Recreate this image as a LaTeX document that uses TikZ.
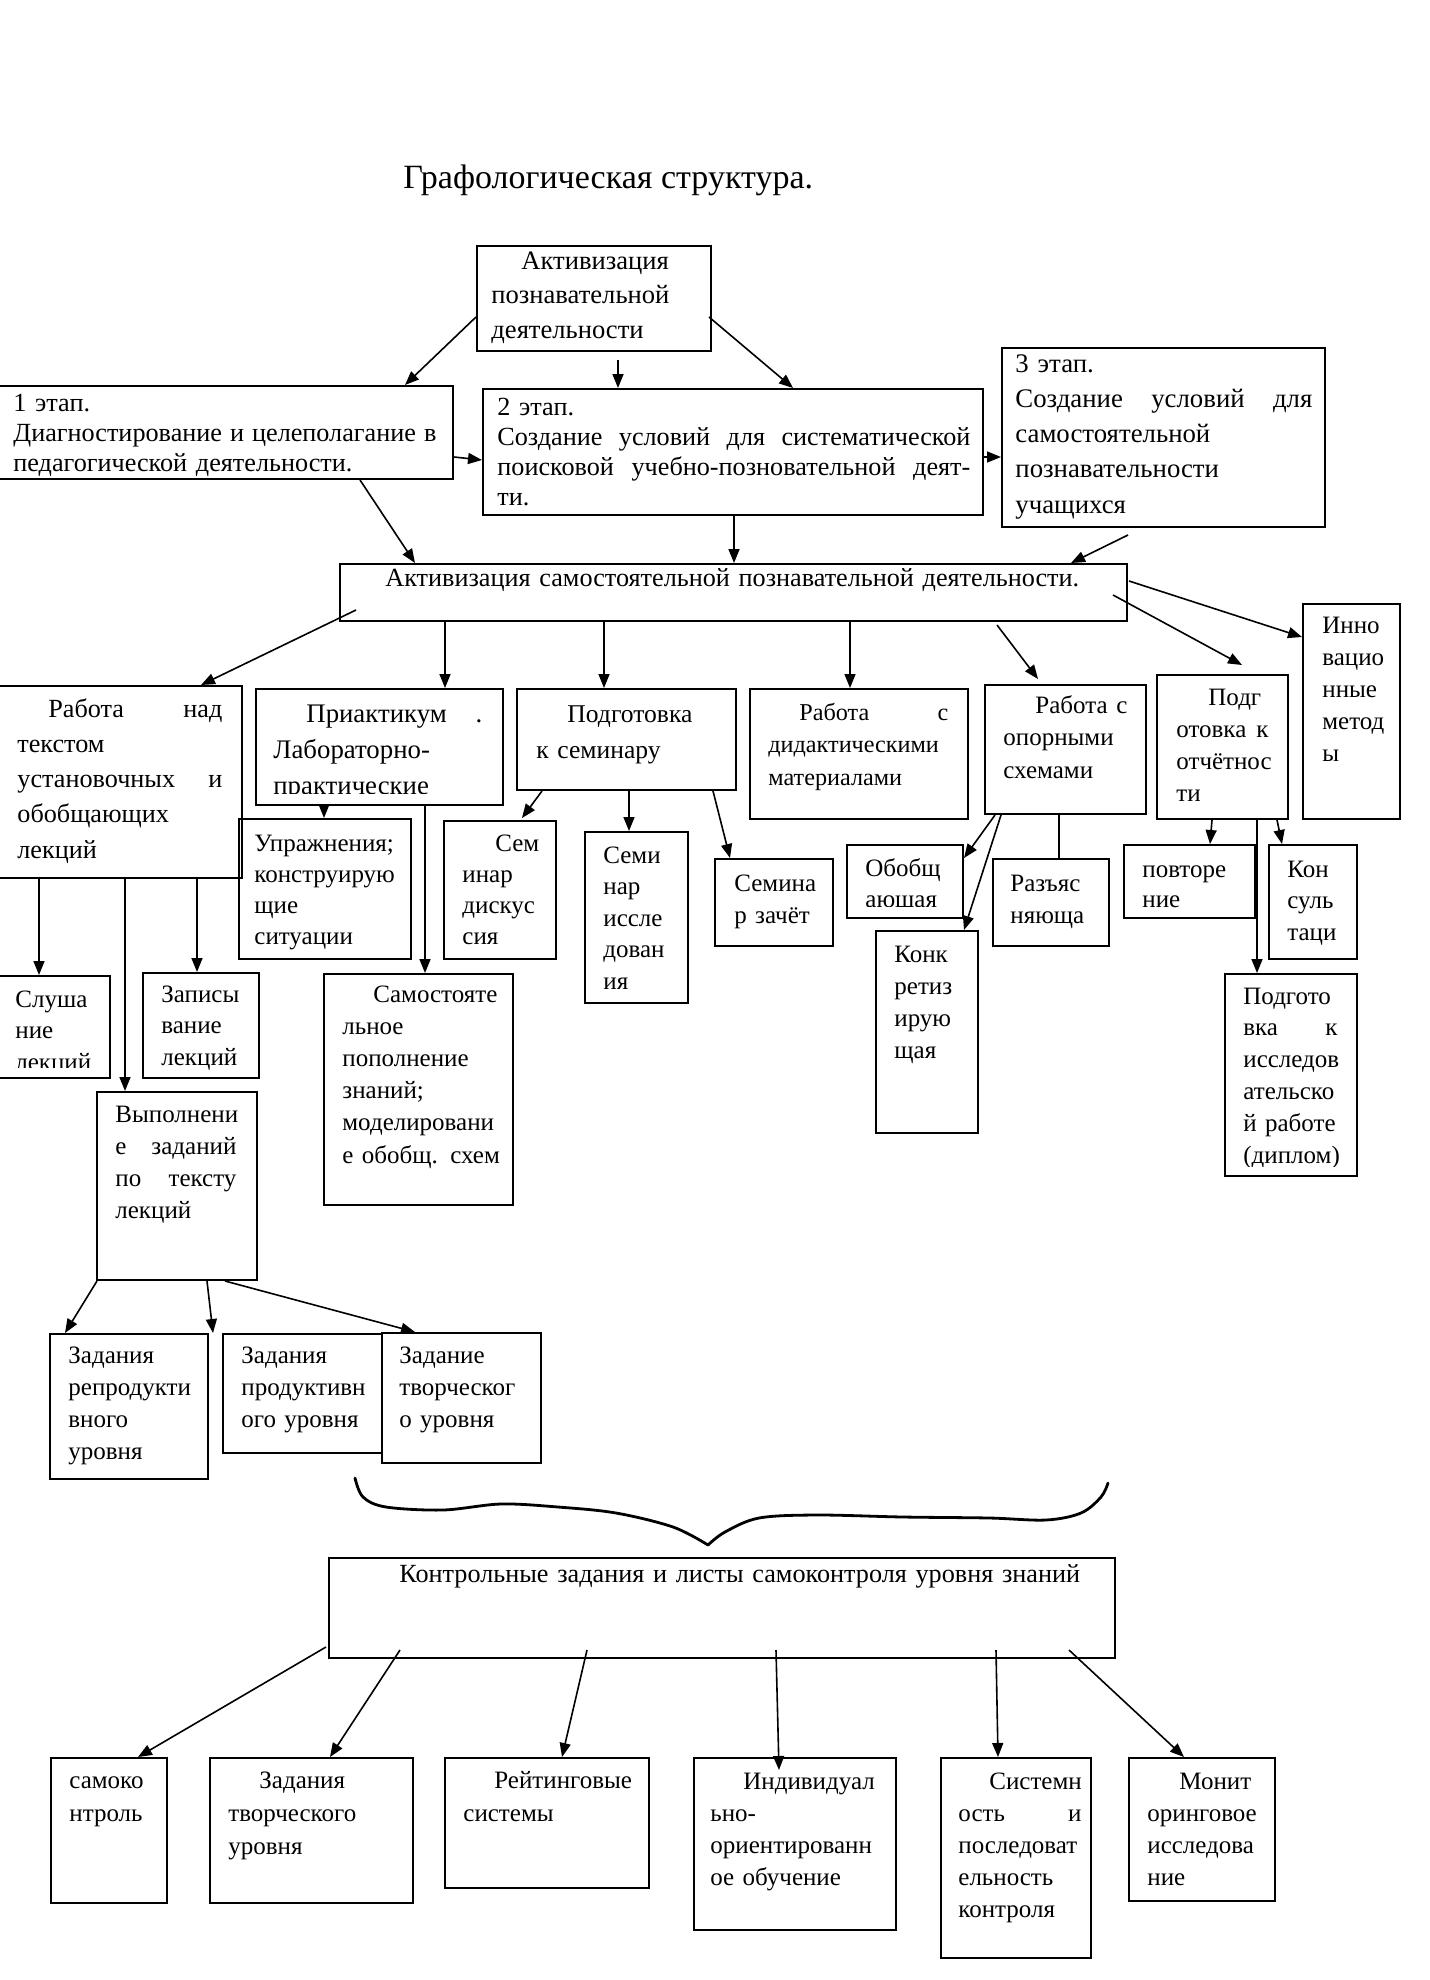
\documentclass[tikz,border=0pt]{standalone}
\usepackage{fontspec}
\setmainfont{Liberation Serif}
\usetikzlibrary{calc,arrows.meta}
\tikzset{
 bx/.style={draw, line width=1pt, inner sep=0pt, anchor=north west},
 txt/.style={anchor=base west, inner sep=0pt, align=left, text width=400pt},
 arr/.style={line width=0.8pt, -{Triangle[length=7pt,width=5.5pt]}},
 ln/.style={line width=0.8pt},
 bracestyle/.style={line width=1.4pt, line cap=round, line join=round}
}
\newcommand\mkbox[5]{%
  \pgfmathsetmacro\bw{(#4-#2)*0.5}\pgfmathsetmacro\bh{(#5-#3)*0.5}%
  \node[bx, minimum width=\bw pt, minimum height=\bh pt] (#1) at (#2,#3) {};}
% name, x, baseline, baselineskip(pt), content ; optional font size
\newcommand\mktext[6][12.5]{%
  \node[txt, font=\fontsize{#1pt}{#5pt}\selectfont] (#2) at (#3,#4) {#6};}
\begin{document}
\begin{tikzpicture}[x=0.5pt,y=-0.5pt]
\fill[white] (0,0) rectangle (1429,1980);
\useasboundingbox (0,0) rectangle (1429,1980);

% title
\node[anchor=base west, inner sep=0pt, font=\fontsize{17pt}{20pt}\selectfont] (title) at (403,188) {Графологическая структура.};

% ---- boxes ----
\mkbox{act}{476}{245}{710}{350}
\mkbox{st1}{-3}{385}{452}{478}
\mkbox{st2}{482}{388}{982}{514}
\mkbox{st3}{1001}{347}{1324}{526}
\mkbox{main}{339}{563}{1126}{620}
\mkbox{F}{-3}{685}{241}{877}
\mkbox{G}{255}{688}{502}{804}
\mkbox{H}{516}{688}{735}{789}
\mkbox{I}{749}{688}{967}{818}
\mkbox{J}{984}{684}{1145}{813}
\mkbox{K}{1156}{674}{1287}{818}
\mkbox{L}{1302}{603}{1399}{818}
\mkbox{M}{238}{818}{410}{958}
\mkbox{N}{443}{820}{555}{958}
\mkbox{O}{-3}{975}{109}{1077}
\mkbox{P}{142}{972}{258}{1077}
\mkbox{Q}{96}{1091}{256}{1279}
\mkbox{R}{323}{973}{512}{1204}
\mkbox{S}{584}{831}{687}{1002}
\mkbox{T}{714}{858}{832}{945}
\mkbox{U}{846}{844}{962}{917}
\mkbox{V}{875}{930}{977}{1132}
\mkbox{W}{992}{858}{1108}{945}
\mkbox{X}{1123}{844}{1254}{917}
\mkbox{Y}{1268}{844}{1356}{958}
\mkbox{Z}{1224}{973}{1356}{1175}
\mkbox{AA}{49}{1333}{207}{1478}
\mkbox{AB}{222}{1333}{381}{1452}
\mkbox{AC}{381}{1332}{540}{1462}
\mkbox{ctrl}{328}{1557}{1114}{1657}
\mkbox{Ba}{50}{1757}{166}{1902}
\mkbox{Bb}{209}{1757}{412}{1902}
\mkbox{Bc}{444}{1757}{648}{1887}
\mkbox{Bd}{693}{1757}{895}{1929}
\mkbox{Be}{940}{1757}{1090}{1957}
\mkbox{Bf}{1128}{1757}{1274}{1900}

% ---- texts ----
\mktext[13.3]{actt}{491}{269}{17.25}{\hspace*{15pt}Активизация\\познавательной\\деятельности}
\mktext[13.1]{st1t}{13}{411}{15}{1 этап.\\\makebox[211.5pt][l]{Диагностирование\hfill и\hfill целеполагание\hfill в}\\педагогической деятельности.}
\mktext[13.1]{st2t}{497}{415}{15}{2 этап.\\\makebox[236.5pt][l]{Создание\hfill условий\hfill для\hfill систематической}\\\makebox[236.5pt][l]{поисковой\hfill учебно-позновательной\hfill деят-}\\ти.}
\mktext[13.4]{st3t}{1015}{372}{17.65}{3 этап.\\\makebox[148.5pt][l]{Создание\hfill условий\hfill для}\\самостоятельной\\познавательности\\учащихся}
\mktext[13.1]{maint}{385}{586}{15}{Активизация самостоятельной познавательной деятельности.}
\mktext[13.1]{Ft}{17}{717}{17.65}{\makebox[102.5pt][l]{\hspace*{15.5pt}Работа\hfill над}\\текстом\\\makebox[102.5pt][l]{установочных\hfill и}\\обобщающих\\лекций}
\begin{scope}
\clip (255,688) rectangle (502,793);
\mktext[13.4]{Gt}{273}{722}{18}{\makebox[104.5pt][l]{\hspace*{16.5pt}Приактикум\hfill .}\\Лабораторно-\\практические}
\end{scope}
\mktext[12.8]{Ht}{536}{722}{18}{\hspace*{15.5pt}Подготовка\\к семинару}
\mktext[12.1]{It}{768}{720}{16.25}{\makebox[90pt][l]{\hspace*{15.5pt}Работа\hfill с}\\дидактическими\\материалами}
\mktext{Jt}{1003}{713}{16.25}{\makebox[62pt][l]{\hspace*{16pt}Работа\hfill с}\\опорными\\схемами}
\mktext{Kt}{1176}{705}{16.15}{\hspace*{16pt}Подг\\\makebox[46pt][l]{отовка\hfill к}\\отчётнос\\ти}
\mktext{Lt}{1322}{633}{16.1}{Инно\\вацио\\нные\\метод\\ы}
\mktext{Mt}{254}{851}{15.5}{Упражнения;\\конструирую\\щие\\ситуации}
\mktext{Nt}{462}{851}{15.5}{\hspace*{16.5pt}Сем\\инар\\дискус\\сия}
\begin{scope}
\clip (-3,975) rectangle (109,1067);
\mktext{Ot}{15}{1007}{15.75}{Слуша\\ние\\лекций}
\end{scope}
\mktext{Pt}{161}{1002}{15.75}{Записы\\вание\\лекций}
\mktext{Qt}{115}{1122}{16}{Выполнени\\\makebox[60.5pt][l]{е\hfill заданий}\\\makebox[60.5pt][l]{по\hfill тексту}\\лекций}
\mktext{Rt}{342}{1002}{16.1}{\hspace*{15.5pt}Самостояте\\льное\\пополнение\\знаний;\\моделировани\\е обобщ. схем}
\mktext{St}{603}{863}{15.75}{Семи\\нар\\иссле\\дован\\ия}
\mktext{Tt}{734}{891}{16}{Семина\\р зачёт}
\begin{scope}
\clip (846,844) rectangle (962,906);
\mktext{Ut}{865}{876}{15.5}{Обобщ\\ающая}
\end{scope}
\mktext{Vt}{894}{962}{16}{Конк\\ретиз\\ирую\\щая}
\mktext{Wt}{1010}{891}{16}{Разъяс\\няюща}
\mktext{Xt}{1142}{877}{15}{повторе\\ние}
\mktext{Yt}{1287}{877}{15.75}{Кон\\суль\\таци}
\begin{scope}
\clip (1224,973) rectangle (1356,1166);
\mktext{Zt}{1243}{1004}{15.9}{Подгото\\\makebox[47pt][l]{вка\hfill к}\\исследов\\ательско\\й работе\\(диплом)}
\end{scope}
\mktext{AAt}{68}{1363}{16}{Задания\\репродукти\\вного\\уровня}
\mktext{ABt}{241}{1363}{16}{Задания\\продуктивн\\ого уровня}
\mktext{ACt}{399}{1363}{16}{Задание\\творческог\\о уровня}
\mktext[13.1]{ctrlt}{399}{1582}{15}{Контрольные задания и листы самоконтроля уровня знаний}
\mktext{Bat}{69}{1788}{16.5}{самоко\\нтроль}
\mktext{Bbt}{228}{1788}{16.5}{\hspace*{15.5pt}Задания\\творческого\\уровня}
\mktext{Bct}{463}{1788}{16.5}{\hspace*{15.5pt}Рейтинговые\\системы}
\mktext{Bdt}{710}{1789}{16}{\hspace*{16.5pt}Индивидуал\\ьно-\\ориентированн\\ое обучение}
\mktext{Bet}{958}{1789}{16}{\hspace*{15.5pt}Системн\\\makebox[61.5pt][l]{ость\hfill и}\\последоват\\ельность\\контроля}
\mktext{Bft}{1147}{1789}{16}{\hspace*{16pt}Монит\\оринговое\\исследова\\ние}

% ---- connectors ----
\draw[arr] ($(act.north west)+(0,72)$) -- ($(st1.north west)+(408,0)$);
\draw[arr] ($(act.south west)+(142,8)$) -- ($(st2.north west)+(136,0)$);
\draw[arr] ($(act.north east)+(-3,72)$) -- ($(st2.north west)+(311,0)$);
\draw[arr] ($(st1.north east)+(0,72)$) -- ($(st2.north west)+(0,72)$);
\draw[arr] ($(st2.north east)+(0,69)$) -- ($(st3.north west)+(0,110)$);
\draw[arr] ($(st1.south west)+(363,0)$) -- ($(main.north west)+(76,0)$);
\draw[arr] ($(st2.south west)+(252,0)$) -- ($(main.north west)+(395,0)$);
\draw[arr] ($(st3.south west)+(127,7)$) -- ($(main.north west)+(732,0)$);

\draw[arr] ($(main.north west)+(17,47)$) -- ($(F.north east)+(-42,0)$);
\draw[arr] ($(main.south west)+(106,0)$) -- ($(G.north west)+(190,0)$);
\draw[arr] ($(main.south west)+(265,0)$) -- ($(H.north west)+(88,0)$);
\draw[arr] ($(main.south west)+(511,0)$) -- ($(I.north west)+(101,0)$);
\draw[arr] ($(main.south west)+(658,3)$) -- ($(J.north west)+(54,-5)$);
\draw[arr] ($(main.north west)+(774,32)$) -- ($(K.north west)+(86,-9)$);
\draw[arr] ($(main.north east)+(1,18)$) -- ($(L.north west)+(0,34)$);

\draw[arr] ($(F.south west)+(42,0)$) -- ($(O.north west)+(42,0)$);
\draw[arr] ($(F.south west)+(128,0)$) -- ($(Q.north west)+(29,0)$);
\draw[arr] ($(F.south west)+(200,0)$) -- ($(P.north west)+(55,0)$);
\draw[arr] ($(G.south west)+(69,0)$) -- ($(M.north west)+(86,0)$);
\draw[arr] ($(G.south west)+(170,0)$) -- ($(R.north west)+(102,0)$);
\draw[arr] ($(H.south west)+(26,0)$) -- ($(N.north west)+(79,-2)$);
\draw[arr] ($(H.south west)+(113,0)$) -- ($(S.north west)+(45,0)$);
\draw[arr] ($(H.south west)+(197,0)$) -- ($(T.north west)+(16,0)$);
\draw[arr] ($(J.south west)+(11,0)$) -- ($(U.north east)+(0,14)$);
\draw[arr] ($(J.south west)+(17,0)$) -- ($(V.north east)+(-15,0)$);
\draw[ln] ($(J.south west)+(75,0)$) -- ($(W.north west)+(67,0)$);
\draw[arr] ($(K.south west)+(56,0)$) -- ($(X.north west)+(87,0)$);
\draw[arr] ($(K.south west)+(101,0)$) -- ($(Z.north west)+(33,0)$);
\draw[arr] ($(K.south west)+(121,0)$) -- ($(Y.north west)+(14,0)$);

\draw[arr] ($(Q.south west)+(1,0)$) -- ($(AA.north west)+(16,0)$);
\draw[arr] ($(Q.south west)+(111,0)$) -- ($(AA.north east)+(4,0)$);
\draw[arr] ($(Q.south west)+(129,0)$) -- ($(AC.north west)+(34,0)$);

\draw[arr] ($(ctrl.south west)+(-2,-12)$) -- ($(Ba.north west)+(88,0)$);
\draw[arr] ($(ctrl.south west)+(72,-9)$) -- ($(Bb.north west)+(121,0)$);
\draw[arr] ($(ctrl.south west)+(259,-9)$) -- ($(Bc.north west)+(118,0)$);
\draw[arr] ($(ctrl.south west)+(448,-9)$) -- ($(Bd.north west)+(86,13)$);
\draw[arr] ($(ctrl.south west)+(668,-9)$) -- ($(Be.north west)+(58,0)$);
\draw[arr] ($(ctrl.south west)+(741,-9)$) -- ($(Bf.north west)+(56,0)$);

% ---- brace ----
\coordinate (bracetip) at (708,1545);
\draw[bracestyle] plot[smooth, tension=0.55] coordinates {(355,1478) (363,1497) (386,1507) (443,1510) (501,1504) (558,1507) (616,1513) (673,1527) (bracetip)};
\draw[bracestyle] plot[smooth, tension=0.55] coordinates {(bracetip) (725,1532) (759,1518) (817,1515) (903,1517) (989,1518) (1046,1520) (1081,1513) (1101,1497) (1108,1483)};
\end{tikzpicture}
\end{document}
